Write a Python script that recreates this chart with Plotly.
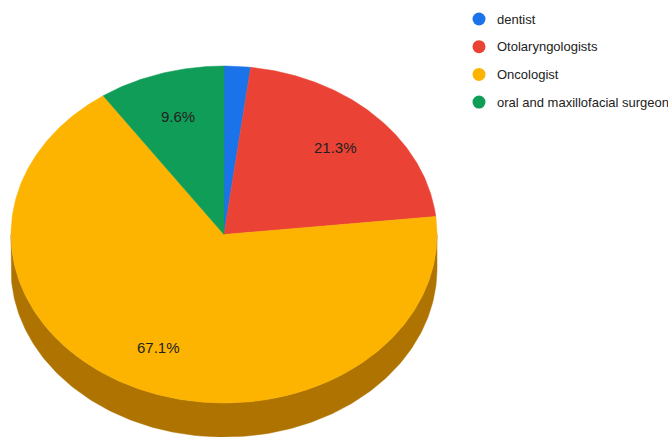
import numpy as np
import plotly.graph_objects as go

# ---- data ----
categories = ["dentist", "Otolaryngologists", "Oncologist", "oral and maxillofacial surgeon"]
values = [2.0, 21.3, 67.1, 9.6]
colors = ["#1A73E8", "#EA4335", "#FDB400", "#0F9D58"]
side_colors = ["#124FA0", "#A22E24", "#AE7300", "#0A6D3D"]
label_texts = ["", "21.3%", "67.1%", "9.6%"]

# ---- geometry (pixel space) ----
W, H = 668, 437
cx, cy = 224.0, 234.5
rx, ry = 213.0, 168.5
depth = 34.0
label_frac = 0.735


def pt(theta_deg, dy=0.0, f=1.0):
    t = np.radians(theta_deg)
    return cx + f * rx * np.sin(t), cy - f * ry * np.cos(t) + dy


fig = go.Figure()

total = sum(values)
starts = []
acc = 0.0
for v in values:
    starts.append(acc / total * 360.0)
    acc += v
ends = [s + v / total * 360.0 for s, v in zip(starts, values)]

# side walls (front half: 90..270 degrees)
for s, e, sc in zip(starts, ends, side_colors):
    a0, a1 = max(s, 90.0), min(e, 270.0)
    if a1 <= a0:
        continue
    th = np.linspace(a0, a1, 200)
    xt, yt = pt(th)
    xb, yb = pt(th[::-1], dy=depth)
    xs = np.concatenate([xt, xb, xt[:1]])
    ys = np.concatenate([yt, yb, yt[:1]])
    fig.add_trace(go.Scatter(x=xs, y=ys, mode="lines", fill="toself",
                             fillcolor=sc, line=dict(width=0.5, color=sc),
                             hoverinfo="skip", showlegend=False))

# top faces
for s, e, c in zip(starts, ends, colors):
    th = np.linspace(s, e, max(int((e - s) * 2), 4))
    xa, ya = pt(th)
    xs = np.concatenate([[cx], xa, [cx]])
    ys = np.concatenate([[cy], ya, [cy]])
    fig.add_trace(go.Scatter(x=xs, y=ys, mode="lines", fill="toself",
                             fillcolor=c, line=dict(width=0.5, color=c),
                             hoverinfo="skip", showlegend=False))

# slice labels
for s, e, txt in zip(starts, ends, label_texts):
    if not txt:
        continue
    lx, ly = pt((s + e) / 2.0, f=label_frac)
    fig.add_annotation(x=lx, y=ly, text=txt, showarrow=False,
                       font=dict(family="Arial, Liberation Sans", size=15, color="#222222"),
                       xanchor="center", yanchor="middle")

# legend
leg_x, leg_y0, leg_dy = 479.0, 19.0, 27.7
leg_ys = [leg_y0 + i * leg_dy for i in range(len(categories))]
fig.add_trace(go.Scatter(x=[leg_x] * len(categories), y=leg_ys, mode="markers",
                         marker=dict(size=13, color=colors, line=dict(width=0)),
                         hoverinfo="skip", showlegend=False))
for name, y in zip(categories, leg_ys):
    fig.add_annotation(x=leg_x + 16, y=y, text=name, showarrow=False,
                       font=dict(family="Arial, Liberation Sans", size=13, color="#222222"),
                       xanchor="left", yanchor="middle")

fig.update_layout(
    width=W, height=H,
    margin=dict(l=0, r=0, t=0, b=0),
    paper_bgcolor="white", plot_bgcolor="white",
    xaxis=dict(range=[0, W], visible=False, fixedrange=True),
    yaxis=dict(range=[H, 0], visible=False, fixedrange=True),
    showlegend=False,
)

fig.write_html("out.html")
